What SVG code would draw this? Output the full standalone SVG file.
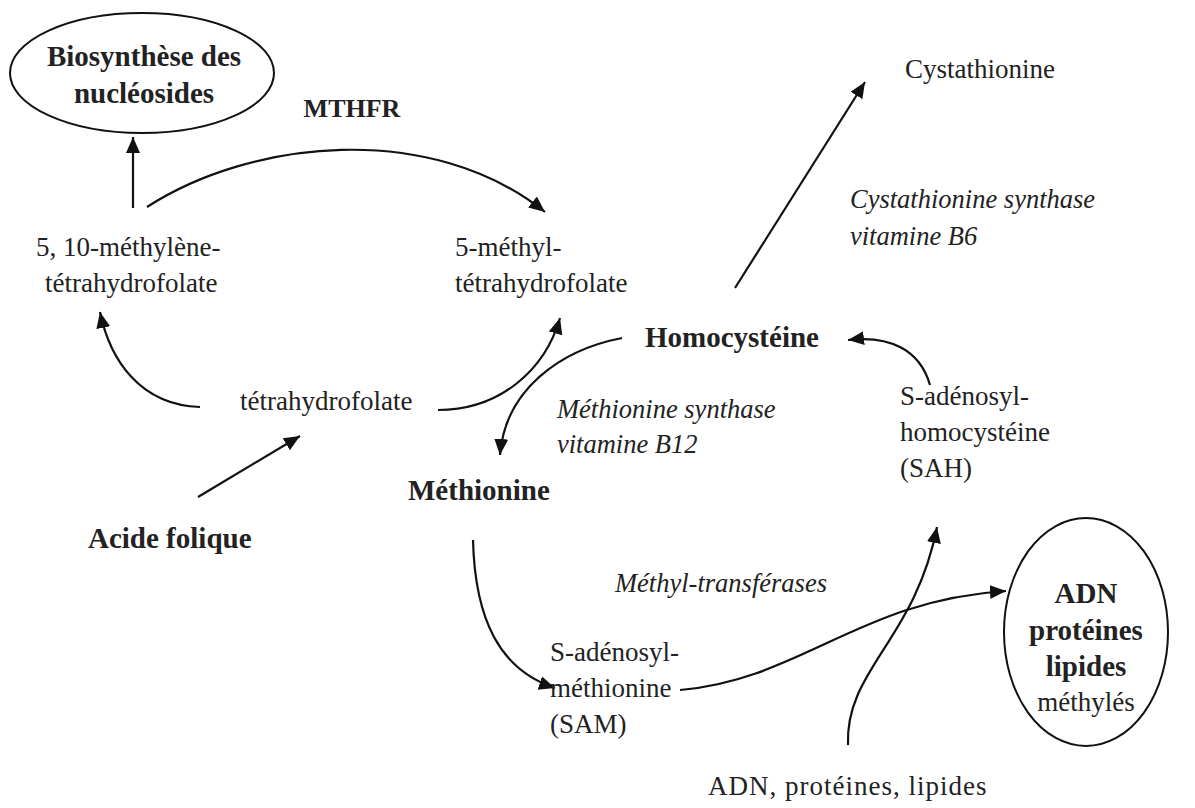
<svg xmlns="http://www.w3.org/2000/svg" width="1195" height="808" viewBox="0 0 1195 808">
<defs>
<style>
text{font-family:"Liberation Serif","Times New Roman",serif;font-size:27px;fill:#222}
.b{font-weight:bold;font-size:29px}
.i{font-style:italic;font-size:26.5px}
.c{stroke:#111;stroke-width:2.2;fill:none;marker-end:url(#ah)}
.e{stroke:#111;stroke-width:2;fill:none}
</style>
<marker id="ah" markerUnits="userSpaceOnUse" markerWidth="18" markerHeight="16" refX="16" refY="7" orient="auto">
<path d="M0,0 L16,7 L0,14 z" fill="#111"/>
</marker>
</defs>
<rect width="1195" height="808" fill="#fff"/>
<g id="connectors">
<path class="c" d="M133,208 L133,137"/>
<path class="c" d="M147,207 C250,140 430,120 545,212"/>
<path class="c" d="M735,288 L865,82"/>
<path class="c" d="M930,385 C920,350 890,335 848,340"/>
<path class="c" d="M200,407 C140,405 110,360 100,312"/>
<path class="c" d="M438,410 C500,410 545,370 560,318"/>
<path class="c" d="M622,338 C560,350 505,390 500,455"/>
<path class="c" d="M198,497 L300,436"/>
<path class="c" d="M473,540 C475,620 500,670 555,688"/>
<path class="c" d="M680,690 C800,680 860,600 1006,591"/>
<path class="c" d="M848,745 C845,670 915,640 937,527"/>
</g>
<g id="biosynthese">
<ellipse class="e" cx="142" cy="73" rx="132" ry="60"/>
<text class="b" x="144" y="66" text-anchor="middle">Biosynthèse des</text>
<text class="b" x="144" y="103" text-anchor="middle">nucléosides</text>
</g>
<g id="mthfr"><text class="b" x="352" y="117" text-anchor="middle" style="font-size:26px">MTHFR</text></g>
<g id="methylene-thf">
<text x="36" y="256">5, 10-méthylène-</text>
<text x="45" y="292">tétrahydrofolate</text>
</g>
<g id="methyl-thf">
<text x="455" y="256">5-méthyl-</text>
<text x="455" y="292">tétrahydrofolate</text>
</g>
<g id="cystathionine"><text x="905" y="78">Cystathionine</text></g>
<g id="cbs-label">
<text class="i" x="850" y="208">Cystathionine synthase</text>
<text class="i" x="850" y="245">vitamine B6</text>
</g>
<g id="homocysteine"><text class="b" x="645" y="347">Homocystéine</text></g>
<g id="thf"><text x="240" y="410">tétrahydrofolate</text></g>
<g id="ms-label">
<text class="i" x="557" y="418">Méthionine synthase</text>
<text class="i" x="557" y="453">vitamine B12</text>
</g>
<g id="methionine"><text class="b" x="408" y="500">Méthionine</text></g>
<g id="sah">
<text x="900" y="405">S-adénosyl-</text>
<text x="900" y="441">homocystéine</text>
<text x="900" y="477">(SAH)</text>
</g>
<g id="acide-folique"><text class="b" x="88" y="548">Acide folique</text></g>
<g id="mt-label"><text class="i" x="615" y="592">Méthyl-transférases</text></g>
<g id="sam">
<text x="550" y="661">S-adénosyl-</text>
<text x="550" y="697">méthionine</text>
<text x="550" y="733">(SAM)</text>
</g>
<g id="methylated">
<ellipse class="e" cx="1086" cy="632" rx="82" ry="114"/>
<text class="b" x="1086" y="603" text-anchor="middle">ADN</text>
<text class="b" x="1086" y="640" text-anchor="middle">protéines</text>
<text class="b" x="1086" y="676" text-anchor="middle">lipides</text>
<text x="1086" y="711" text-anchor="middle">méthylés</text>
</g>
<g id="substrates"><text x="708" y="795" style="letter-spacing:1px">ADN, protéines, lipides</text></g>
</svg>
